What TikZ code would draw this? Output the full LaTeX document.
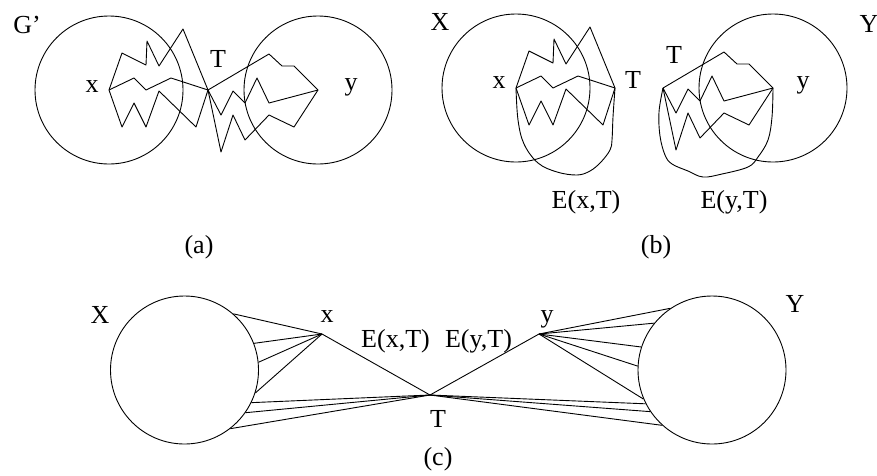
\documentclass[tikz,border=0pt]{standalone}
\usepackage{fontspec}
\setmainfont{Liberation Serif}
\begin{document}
\begin{tikzpicture}[x=1pt,y=-1pt,
  lbl/.style={anchor=base,inner sep=0pt,font=\fontsize{26}{30}\selectfont},
  ln/.style={line width=0.9pt,line join=round},
  ring/.style={circle,draw,minimum size=148pt,inner sep=0pt,line width=0.9pt},
  vtx/.style={coordinate}]
\useasboundingbox (0,0) rectangle (877,475);

% ---------------- (a) ----------------
\node[ring] (aX) at (109,90) {};
\node[ring] (aY) at (318,90) {};
\coordinate (ax) at (109,90);
\coordinate (aT) at (208,90);
\coordinate (ay) at (318,90);
\draw[ln] (ax) -- (122,53) -- (146,65) -- (147,41) -- (159,66) -- (183,29) -- (aT);
\draw[ln] (ax) -- (134,78) -- (146,90) -- (171,78) -- (aT);
\draw[ln] (ax) -- (122,127) -- (134,103) -- (146,127) -- (159,91) -- (196,127) -- (aT);
\draw[ln] (aT) -- (269,54) -- (282,66) -- (294,66) -- (ay);
\draw[ln] (aT) -- (221,115) -- (233,91) -- (245,103) -- (257,78) -- (269,103) -- (ay);
\draw[ln] (aT) -- (221,152) -- (233,115) -- (245,140) -- (269,115) -- (294,127) -- (ay);
\node[lbl] (aG) at (27,33) {G'};
\node[lbl] (axl) at (92,92) {x};
\node[lbl] (ayl) at (351,90) {y};
\node[lbl] (aTl) at (218,67) {T};
\node[lbl] (acap) at (199,253) {(a)};

% ---------------- (b) ----------------
\node[ring] (bX) at (516,88) {};
\node[ring] (bY) at (773,88) {};
\begin{scope}[shift={(407,-2)}]
\coordinate (bx) at (109,90);
\coordinate (bT) at (208,90);
\draw[ln] (bx) -- (122,53) -- (146,65) -- (147,41) -- (159,66) -- (183,29) -- (bT);
\draw[ln] (bx) -- (134,78) -- (146,90) -- (171,78) -- (bT);
\draw[ln] (bx) -- (122,127) -- (134,103) -- (146,127) -- (159,91) -- (196,127) -- (bT);
\end{scope}
\begin{scope}[shift={(455,-2)}]
\coordinate (bT2) at (208,90);
\coordinate (by) at (318,90);
\draw[ln] (bT2) -- (269,54) -- (282,66) -- (294,66) -- (by);
\draw[ln] (bT2) -- (221,115) -- (233,91) -- (245,103) -- (257,78) -- (269,103) -- (by);
\draw[ln] (bT2) -- (221,152) -- (233,115) -- (245,140) -- (269,115) -- (294,127) -- (by);
\end{scope}
\draw[ln] plot[smooth,tension=0.6] coordinates {(516,88) (518,120) (524,144) (538,163) (557,172) (577,175) (590,171) (601,162) (610,150) (612,140) (613,117) (615,88)};
\draw[ln] plot[smooth,tension=0.6] coordinates {(663,88) (659,112) (660,136) (665,155) (672,164) (688,171) (703,177) (722,174) (748,167) (758,157) (768,140) (772,117) (773,88)};
\node[lbl] (bXl) at (440,30) {X};
\node[lbl] (bYl) at (869,32) {Y};
\node[lbl] (bxl) at (499,88) {x};
\node[lbl] (bTl) at (633,88) {T};
\node[lbl] (bTl2) at (674,63) {T};
\node[lbl] (byl) at (803,88) {y};
\node[lbl] (bE1) at (586,208) {E(x,T)};
\node[lbl] (bE2) at (734,208) {E(y,T)};
\node[lbl] (bcap) at (656,253) {(b)};

% ---------------- (c) ----------------
\node[ring] (cX) at (184.5,370) {};
\node[ring] (cY) at (712,370) {};
\coordinate (cx) at (322,334);
\coordinate (cT) at (430,395);
\coordinate (cy) at (539,334);
\draw[ln] (cx) -- (cT) -- (cy);
\foreach \a in {49.6,21.4,6.2,-18.8} \draw[ln] (cX.\a) -- (cx);
\foreach \a in {-26.4,-35,-52.8} \draw[ln] (cX.\a) -- (cT);
\foreach \a in {124.5,141,162.6,177.6,203.8} \draw[ln] (cY.\a) -- (cy);
\foreach \a in {207.3,214.5,228.8} \draw[ln] (cY.\a) -- (cT);
\node[lbl] (cXl) at (100,323) {X};
\node[lbl] (cYl) at (795,312) {Y};
\node[lbl] (cxl) at (327,322) {x};
\node[lbl] (cyl) at (547,322) {y};
\node[lbl] (cTl) at (438,427) {T};
\node[lbl] (cE1) at (395.5,347) {E(x,T)};
\node[lbl] (cE2) at (478.5,347) {E(y,T)};
\node[lbl] (ccap) at (438,465) {(c)};
\end{tikzpicture}
\end{document}
